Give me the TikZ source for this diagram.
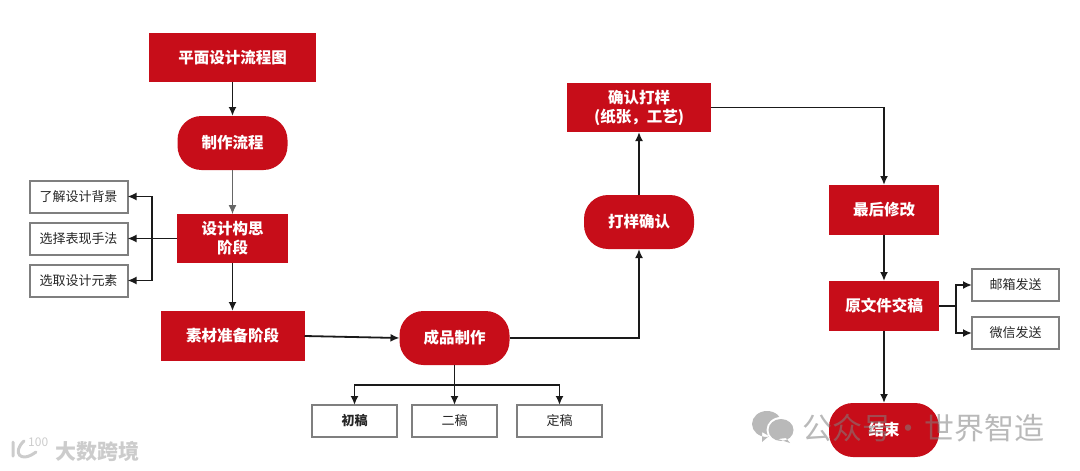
\documentclass[tikz,border=0pt]{standalone}
\usepackage{fontspec}
\setmainfont{Noto Sans CJK SC}
\usetikzlibrary{arrows.meta,positioning}
\definecolor{brandred}{HTML}{C70D19}
\definecolor{boxgray}{HTML}{7F7F7F}
\definecolor{linkblack}{HTML}{1A1A1A}
\begin{document}
\begin{tikzpicture}[x=1pt, y=-1pt, node distance=40pt and 15pt,
  redbox/.style={fill=brandred, text=white, inner sep=0pt, outer sep=0pt, align=center, font=\fontsize{15.5}{19}\selectfont\bfseries, minimum height=49pt},
  pill/.style={redbox, rounded corners=24pt, minimum width=110pt, minimum height=54pt},
  subbox/.style={draw=boxgray, line width=2pt, fill=white, inner sep=0pt, outer sep=0pt, font=\fontsize{13}{16}\selectfont, text=black!85},
  sidebox/.style={subbox, minimum width=98pt, minimum height=32pt},
  draftbox/.style={subbox, minimum width=85pt, minimum height=32pt},
  link/.style={draw=linkblack, line width=1.8pt, -{Latex[length=9pt,width=8pt]}},
  stamp/.style={text=gray, opacity=0.55}]
\useasboundingbox (0,0) rectangle (1080,471);
\node[redbox, minimum width=167pt] (title) at (232.5,57.5) {平面设计流程图};
\node[pill, below=34pt of title] (flow) {制作流程};
\node[redbox, minimum width=111pt, below=44pt of flow] (design) {设计构思\\阶段};
\node[redbox, minimum width=144pt, minimum height=50pt, below=48pt of design] (material) {素材准备阶段};
\node[pill, right=95pt of material, yshift=-2pt] (product) {成品制作};
\node[draftbox, below=40pt of product] (second) {二稿};
\node[draftbox, left=of second] (first) {\bfseries 初稿};
\node[draftbox, right=20pt of second] (final) {定稿};
\node[pill, minimum height=54pt] (proof) at (639,222) {打样确认};
\node[redbox, minimum width=144pt, above=63pt of proof] (confirm) {确认打样\\(纸张，工艺)};
\node[redbox, minimum width=110pt, minimum height=50pt] (revise) at (884,210) {最后修改};
\node[redbox, minimum width=110pt, minimum height=50pt, below=46pt of revise] (source) {原文件交稿};
\node[pill, below=72pt of source] (finish) {结束};
\node[sidebox] (style) at (78.5,238.5) {选择表现手法};
\node[sidebox, above=10pt of style] (background) {了解设计背景};
\node[sidebox, below=10pt of style] (element) {选取设计元素};
\node[sidebox, minimum width=87pt] (mail) at (1015.5,285) {邮箱发送};
\node[sidebox, minimum width=87pt, below=16pt of mail] (wechat) {微信发送};
\coordinate (leftfork) at (152,238.5);
\coordinate (rightfork) at (956,306);
\coordinate (bottomfork) at (455,385);
\draw[link] (title) -- (flow);
\draw[link, line width=1pt, draw=black!60] (flow) -- (design);
\draw[link] (design) -- (material);
\draw[link] (design.west) -- (style.east);
\draw[link] (leftfork) |- (background.east);
\draw[link] (leftfork) |- (element.east);
\draw[link] (material.east) -- (product.west);
\draw[link] (product) -- (second);
\draw[link] (bottomfork) -| (first.north);
\draw[link] (bottomfork) -| (final.north);
\draw[link] (product.east) -| (proof.south);
\draw[link] (proof) -- (confirm);
\draw[link] (confirm.east) -| (revise.north);
\draw[link] (revise) -- (source);
\draw[link] (source) -- (finish);
\draw[line width=1.8pt, draw=linkblack] (source.east) -- (rightfork);
\draw[link] (rightfork) |- (mail.west);
\draw[link] (rightfork) |- (wechat.west);
\fill[gray, opacity=0.55] (767,424) ellipse (15pt and 13pt) (769,436) -- (762,442) -- (762,432) -- cycle;
\fill[white] (781,430) ellipse (14.5pt and 13pt);
\fill[gray, opacity=0.55] (781,430) ellipse (12.5pt and 11pt) (786,438) -- (790,443) -- (778,439) -- cycle;
\node[stamp, font=\fontsize{30}{32}\selectfont, anchor=west, inner sep=0pt] (account) at (802,428) {公众号\hspace{1pt}·\hspace{1pt}世界智造};
\node[text=black!20, font=\fontsize{21}{23}\selectfont\bfseries, anchor=west, inner sep=0pt] (sitemark) at (55,451) {大数跨境};
\node[text=black!20, font=\fontsize{12}{13}\selectfont, anchor=west, inner sep=0pt] (logomark) at (28,442) {100};
\draw[black!20, line width=3pt, line cap=round] (13,442) -- (13,456) (24,441) .. controls (12,452) and (20,464) .. (36,452);
\end{tikzpicture}
\end{document}
